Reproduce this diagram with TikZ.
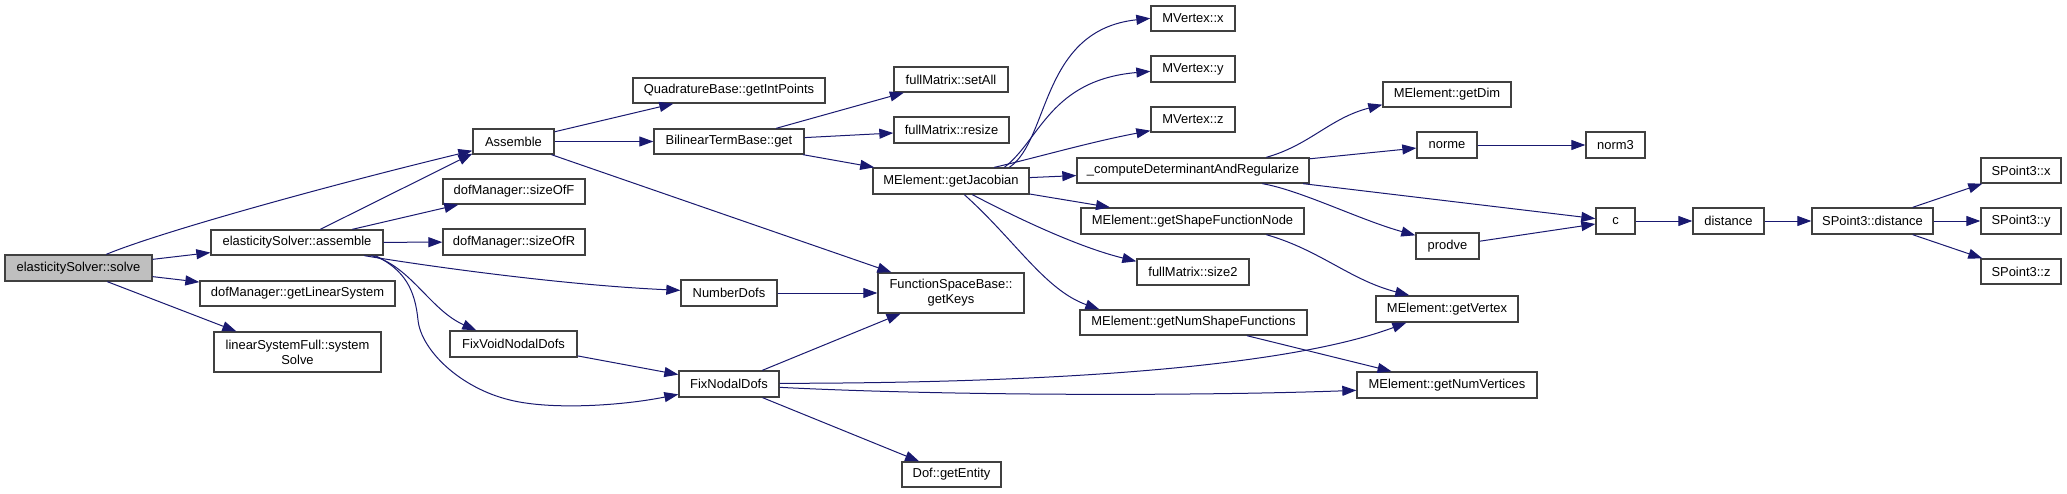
\documentclass[tikz,border=0pt]{standalone}
\usepackage{fontspec}
\setmainfont{Liberation Sans}
\usetikzlibrary{calc,arrows.meta}
\definecolor{edgeblue}{HTML}{191970}
\definecolor{rootgray}{HTML}{BFBFBF}
\definecolor{bordergray}{HTML}{404040}
\newcommand{\gbox}[7][]{%
  \pgfmathsetmacro\gw{(#5-#3)*0.75}%
  \pgfmathsetmacro\gh{(#6-#4)*0.75}%
  \node[nbox,#1,minimum width=\gw pt,minimum height=\gh pt] (#2) at ({(#3+#5)/2},{(#4+#6)/2}) {#7};}
\tikzset{
  nbox/.style={draw=bordergray, fill=white, line width=1pt, inner sep=0pt, align=center,
    font=\fontsize{9.7}{11.25}\selectfont},
  rootbox/.style={fill=rootgray},
  edge/.style={draw=edgeblue, line width=0.75pt, -{Triangle[length=10.5pt,width=7.5pt]}}
}
\begin{document}
\begin{tikzpicture}[x=0.75pt,y=-0.75pt]
\useasboundingbox[fill=white] (0,0) rectangle (2067,493);
% nodes
\gbox[rootbox]{solve}{5}{255}{152}{281}{elasticitySolver::solve}
\gbox{esasm}{211}{230}{383}{255}{elasticitySolver::assemble}
\gbox{gls}{200}{281}{395}{306}{dofManager::getLinearSystem}
\gbox{lsf}{214}{332}{381}{372}{linearSystemFull::system\\Solve}
\gbox{Asm}{473}{129}{554}{154}{Assemble}
\gbox{sof}{443}{179}{585}{204}{dofManager::sizeOfF}
\gbox{sor}{443}{229}{585}{255}{dofManager::sizeOfR}
\gbox{ndofs}{681}{280}{777}{306}{NumberDofs}
\gbox{fvnd}{450}{331}{577}{357}{FixVoidNodalDofs}
\gbox{fnd}{679}{371}{779}{397}{FixNodalDofs}
\gbox{qb}{633}{78}{825}{103}{QuadratureBase::getIntPoints}
\gbox{btb}{654}{129}{804}{154}{BilinearTermBase::get}
\gbox{keys}{878}{273}{1024}{313}{FunctionSpaceBase::\\getKeys}
\gbox{dofent}{902}{462}{1001}{487}{Dof::getEntity}
\gbox{setall}{894}{67}{1008}{92}{fullMatrix::setAll}
\gbox{resize}{894}{117}{1009}{143}{fullMatrix::resize}
\gbox{jac}{873}{168}{1029}{194}{MElement::getJacobian}
\gbox{mvx}{1151}{6}{1235}{31}{MVertex::x}
\gbox{mvy}{1151}{56}{1235}{82}{MVertex::y}
\gbox{mvz}{1151}{107}{1235}{132}{MVertex::z}
\gbox{cdr}{1077}{158}{1309}{183}{\_computeDeterminantAndRegularize}
\gbox{gsfn}{1081}{208}{1304}{234}{MElement::getShapeFunctionNode}
\gbox{size2}{1137}{259}{1249}{285}{fullMatrix::size2}
\gbox{gnsf}{1080}{310}{1307}{335}{MElement::getNumShapeFunctions}
\gbox{gdim}{1383}{82}{1511}{107}{MElement::getDim}
\gbox{norme}{1417}{132}{1477}{158}{norme}
\gbox{norm3}{1586}{132}{1645}{158}{norm3}
\gbox{prodve}{1416}{233}{1479}{259}{prodve}
\gbox{gvert}{1376}{296}{1518}{322}{MElement::getVertex}
\gbox{gnv}{1357}{372}{1537}{398}{MElement::getNumVertices}
\gbox{c}{1596}{208}{1635}{234}{c}
\gbox{dist}{1693}{208}{1764}{234}{distance}
\gbox{spd}{1812}{208}{1933}{234}{SPoint3::distance}
\gbox{spx}{1981}{158}{2061}{183}{SPoint3::x}
\gbox{spy}{1981}{208}{2061}{234}{SPoint3::y}
\gbox{spz}{1981}{259}{2061}{284}{SPoint3::z}
% edges
\draw[edge] ($(solve.north west)+(102,0)$) .. controls (160,232) and (330,185) .. ($(Asm.south west)+(0,-4)$);
\draw[edge] (solve) -- (esasm);
\draw[edge] (solve) -- (gls);
\draw[edge] ($(solve.south west)+(103,0)$) -- ($(lsf.north west)+(23,0)$);
\draw[edge] ($(esasm.north west)+(110,0)$) -- ($(Asm.south west)+(0,-1)$);
\draw[edge] ($(esasm.north west)+(142,0)$) -- ($(sof.south west)+(16,0)$);
\draw[edge] (esasm) -- (sor);
\draw[edge] ($(esasm.south west)+(154,0)$) .. controls (420,265) and (560,285) .. ($(ndofs.north west)+(0,11)$);
\draw[edge] ($(esasm.south west)+(161,0)$) .. controls (410,265) and (430,310) .. ($(fvnd.north west)+(27,0)$);
\draw[edge] ($(esasm.south west)+(165,0)$) .. controls (405,270) and (415,290) .. (418,320)
   .. controls (421,350) and (460,388) .. (510,400)
   .. controls (550,410) and (620,406) .. ($(fnd.north west)+(0,24)$);
\draw[edge] (Asm) -- (qb);
\draw[edge] (Asm) -- (btb);
\draw[edge] (Asm) -- (keys);
\draw[edge] (btb) -- (setall);
\draw[edge] (btb) -- (resize);
\draw[edge] (btb) -- (jac);
\draw[edge] (ndofs) -- (keys);
\draw[edge] (fvnd) -- (fnd);
\draw[edge] (fnd) -- (keys);
\draw[edge] ($(fnd.north east)+(0,13)$) .. controls (1150,383) and (1320,355) .. ($(gvert.south west)+(31,0)$);
\draw[edge] ($(fnd.north east)+(0,17)$) .. controls (950,396) and (1200,396) .. ($(gnv.north west)+(0,19)$);
\draw[edge] (fnd) -- (dofent);
\draw[edge] ($(jac.north west)+(137,0)$) .. controls (1050,140) and (1040,30) .. ($(mvx.north west)+(0,13)$);
\draw[edge] ($(jac.north west)+(132,0)$) .. controls (1040,140) and (1050,80) .. ($(mvy.north west)+(0,16)$);
\draw[edge] ($(jac.north west)+(122,0)$) .. controls (1035,158) and (1090,142) .. ($(mvz.south west)+(0,-2)$);
\draw[edge] (jac) -- (cdr);
\draw[edge] (jac) -- (gsfn);
\draw[edge] ($(jac.south west)+(100,0)$) .. controls (1040,230) and (1090,250) .. ($(size2.north west)+(0,3)$);
\draw[edge] ($(jac.south west)+(92,0)$) .. controls (1015,240) and (1045,290) .. ($(gnsf.north west)+(20,0)$);
\draw[edge] ($(cdr.north west)+(190,0)$) .. controls (1310,145) and (1330,118) .. ($(gdim.south west)+(0,-3)$);
\draw[edge] (cdr) -- (norme);
\draw[edge] (cdr) -- (c);
\draw[edge] ($(cdr.south west)+(186,0)$) .. controls (1300,190) and (1360,220) .. ($(prodve.north west)+(0,3)$);
\draw[edge] (prodve) -- (c);
\draw[edge] ($(gsfn.south west)+(186,0)$) .. controls (1320,250) and (1350,280) .. ($(gvert.north west)+(34,0)$);
\draw[edge] (gnsf) -- (gnv);
\draw[edge] (norme) -- (norm3);
\draw[edge] (c) -- (dist);
\draw[edge] (dist) -- (spd);
\draw[edge] (spd) -- (spx);
\draw[edge] (spd) -- (spy);
\draw[edge] (spd) -- (spz);
\end{tikzpicture}
\end{document}
